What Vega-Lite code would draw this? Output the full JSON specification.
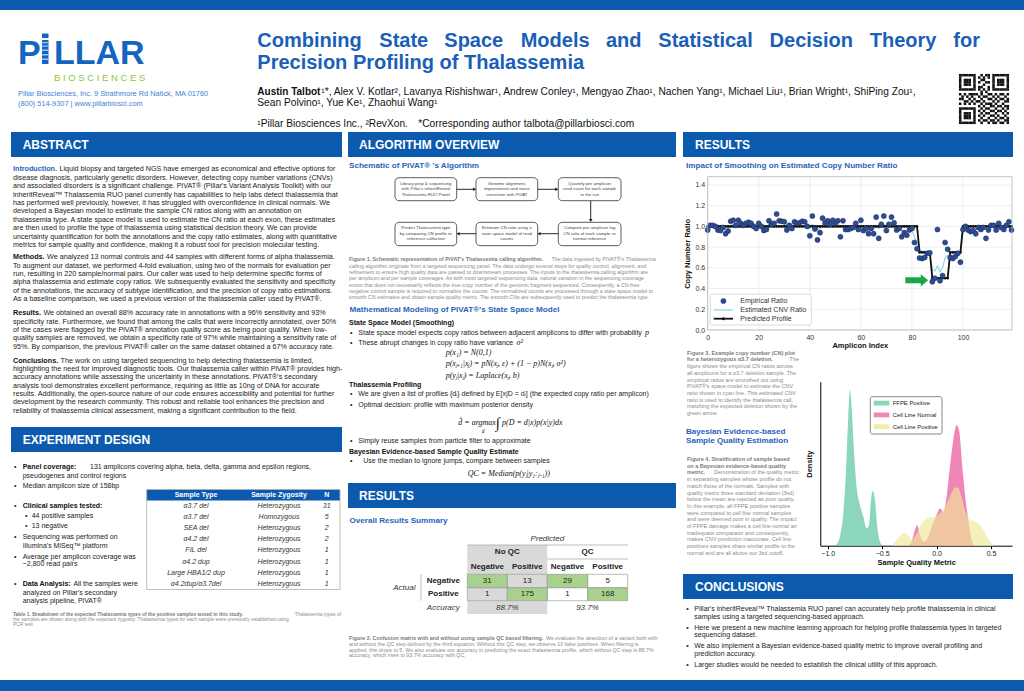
{
"$schema": "https://vega.github.io/schema/vega-lite/v6.json",
"width": 1024, "height": 691,
"autosize": {"type": "none"},
"padding": 0,
"background": "white",
"config": {"view": {"stroke": null}, "font": "Liberation Sans", "axis": {"labelFont": "Liberation Sans", "titleFont": "Liberation Sans"}},
"datasets": {
"cn": [
{"i":0,"e":0.965,"s":0.99,"p":1},{"i":1,"e":1.01,"s":1.0,"p":1},{"i":2,"e":1.01,"s":1.0,"p":1},{"i":3,"e":1.0,"s":0.99,"p":1},{"i":4,"e":0.965,"s":0.98,"p":1},{"i":5,"e":0.96,"s":0.98,"p":1},{"i":6,"e":0.99,"s":0.98,"p":1},{"i":7,"e":0.93,"s":0.97,"p":1},{"i":8,"e":0.955,"s":0.98,"p":1},{"i":9,"e":1.05,"s":1.01,"p":1},
{"i":10,"e":1.06,"s":1.02,"p":1},{"i":11,"e":1.01,"s":1.02,"p":1},{"i":12,"e":1.06,"s":1.03,"p":1},{"i":13,"e":1.03,"s":1.03,"p":1},{"i":14,"e":1.01,"s":1.02,"p":1},{"i":15,"e":1.03,"s":1.02,"p":1},{"i":16,"e":1.04,"s":1.02,"p":1},{"i":17,"e":1.03,"s":1.02,"p":1},{"i":18,"e":1.0,"s":1.01,"p":1},{"i":19,"e":0.98,"s":1.0,"p":1},
{"i":20,"e":1.03,"s":1.01,"p":1},{"i":21,"e":1.0,"s":1.0,"p":1},{"i":22,"e":0.96,"s":0.99,"p":1},{"i":23,"e":0.97,"s":1.0,"p":1},{"i":24,"e":1.055,"s":1.02,"p":1},{"i":25,"e":1.02,"s":1.02,"p":1},{"i":26,"e":1.03,"s":1.03,"p":1},{"i":27,"e":1.12,"s":1.05,"p":1},{"i":28,"e":1.055,"s":1.04,"p":1},{"i":29,"e":1.05,"s":1.04,"p":1},
{"i":30,"e":1.045,"s":1.03,"p":1},{"i":31,"e":0.965,"s":1.01,"p":1},{"i":32,"e":1.01,"s":1.01,"p":1},{"i":33,"e":0.98,"s":1.01,"p":1},{"i":34,"e":1.045,"s":1.02,"p":1},{"i":35,"e":1.03,"s":1.02,"p":1},{"i":36,"e":1.035,"s":1.03,"p":1},{"i":37,"e":1.05,"s":1.03,"p":1},{"i":38,"e":1.045,"s":1.03,"p":1},{"i":39,"e":1.0,"s":1.02,"p":1},
{"i":40,"e":0.91,"s":1.0,"p":1},{"i":41,"e":1.1,"s":1.02,"p":1},{"i":42,"e":0.975,"s":1.0,"p":1},{"i":43,"e":0.87,"s":0.97,"p":1},{"i":44,"e":0.94,"s":0.98,"p":1},{"i":45,"e":1.08,"s":1.02,"p":1},{"i":46,"e":1.035,"s":1.03,"p":1},{"i":47,"e":1.055,"s":1.03,"p":1},{"i":48,"e":1.02,"s":1.03,"p":1},{"i":49,"e":1.06,"s":1.03,"p":1},
{"i":50,"e":1.035,"s":1.03,"p":1},{"i":51,"e":1.055,"s":1.03,"p":1},{"i":52,"e":0.9,"s":1.0,"p":1},{"i":53,"e":1.055,"s":1.01,"p":1},{"i":54,"e":0.97,"s":1.0,"p":1},{"i":55,"e":0.97,"s":0.99,"p":1},{"i":56,"e":0.98,"s":0.99,"p":1},{"i":57,"e":0.99,"s":0.99,"p":1},{"i":58,"e":1.03,"s":1.0,"p":1},{"i":59,"e":0.97,"s":0.99,"p":1},
{"i":60,"e":1.06,"s":1.01,"p":1},{"i":61,"e":0.96,"s":0.99,"p":1},{"i":62,"e":0.98,"s":0.98,"p":1},{"i":63,"e":0.93,"s":0.97,"p":1},{"i":64,"e":0.98,"s":0.97,"p":1},{"i":65,"e":0.93,"s":0.97,"p":1},{"i":66,"e":1.09,"s":1.0,"p":1},{"i":67,"e":0.885,"s":0.98,"p":1},{"i":68,"e":1.02,"s":1.0,"p":1},{"i":69,"e":1.1,"s":1.02,"p":1},
{"i":70,"e":0.96,"s":1.0,"p":1},{"i":71,"e":1.02,"s":1.01,"p":1},{"i":72,"e":1.09,"s":1.02,"p":1},{"i":73,"e":1.035,"s":1.01,"p":1},{"i":74,"e":0.965,"s":0.99,"p":1},{"i":75,"e":0.98,"s":0.98,"p":1},{"i":76,"e":0.9,"s":0.96,"p":1},{"i":77,"e":0.94,"s":0.95,"p":1},{"i":78,"e":0.915,"s":0.95,"p":1},{"i":79,"e":0.965,"s":0.96,"p":1},
{"i":80,"e":0.98,"s":0.96,"p":1},{"i":81,"e":0.845,"s":0.9,"p":1},{"i":82,"e":0.785,"s":0.83,"p":1},{"i":83,"e":0.695,"s":0.77,"p":0.75},{"i":84,"e":0.69,"s":0.76,"p":0.75},{"i":85,"e":0.7,"s":0.76,"p":0.75},{"i":86,"e":0.74,"s":0.76,"p":0.75},{"i":87,"e":0.745,"s":0.74,"p":0.75},{"i":88,"e":0.467,"s":0.58,"p":0.5},{"i":89,"e":0.5,"s":0.57,"p":0.5},
{"i":90,"e":0.97,"s":0.62,"p":0.5},{"i":91,"e":0.476,"s":0.56,"p":0.5},{"i":92,"e":0.525,"s":0.6,"p":0.5},{"i":93,"e":0.845,"s":0.7,"p":0.5},{"i":94,"e":0.78,"s":0.72,"p":0.5},{"i":95,"e":0.7,"s":0.72,"p":0.75},{"i":96,"e":0.69,"s":0.72,"p":0.75},{"i":97,"e":0.71,"s":0.72,"p":0.75},{"i":98,"e":0.74,"s":0.73,"p":0.75},{"i":99,"e":0.655,"s":0.74,"p":0.75},
{"i":100,"e":0.97,"s":0.93,"p":1},{"i":101,"e":1.0,"s":0.98,"p":1},{"i":102,"e":0.965,"s":0.98,"p":1},{"i":103,"e":0.95,"s":0.97,"p":1},{"i":104,"e":0.96,"s":0.97,"p":1},{"i":105,"e":0.93,"s":0.97,"p":1},{"i":106,"e":0.99,"s":0.97,"p":1},{"i":107,"e":0.97,"s":0.98,"p":1},{"i":108,"e":0.99,"s":0.98,"p":1},{"i":109,"e":0.885,"s":0.97,"p":1},
{"i":110,"e":0.965,"s":0.98,"p":1},{"i":111,"e":1.01,"s":0.99,"p":1},{"i":112,"e":1.01,"s":0.99,"p":1},{"i":113,"e":0.965,"s":0.99,"p":1},{"i":114,"e":1.03,"s":1.0,"p":1},{"i":115,"e":0.99,"s":1.0,"p":1},{"i":116,"e":0.97,"s":1.0,"p":1},{"i":117,"e":1.01,"s":1.01,"p":1},{"i":118,"e":1.045,"s":1.01,"p":1},{"i":119,"e":0.965,"s":1.0,"p":1}
],
"gx": [{"v":0},{"v":20},{"v":40},{"v":60},{"v":80},{"v":100}],
"gy": [{"v":0},{"v":0.2},{"v":0.4},{"v":0.6},{"v":0.8},{"v":1.0},{"v":1.2},{"v":1.4}],
"one": [{"k":1}],
"arrow": [{"a":77.4,"b":83.6,"h":84.9,"y":0.48}],
"dG": [{"v":-0.958,"d":0},{"v":-0.918,"d":0.05},{"v":-0.888,"d":0.29},{"v":-0.857,"d":1.03},{"v":-0.833,"d":2.32},{"v":-0.811,"d":4.13},{"v":-0.796,"d":5.0},{"v":-0.781,"d":4.45},{"v":-0.759,"d":3.06},{"v":-0.735,"d":1.89},{"v":-0.704,"d":1.3},{"v":-0.673,"d":0.93},{"v":-0.643,"d":0.55},{"v":-0.621,"d":0.66},{"v":-0.603,"d":1.46},{"v":-0.585,"d":1.76},{"v":-0.566,"d":1.46},{"v":-0.545,"d":0.61},{"v":-0.52,"d":0.13},{"v":-0.496,"d":0}],
"dP": [{"v":-0.26,"d":0},{"v":-0.23,"d":0.13},{"v":-0.199,"d":0.5},{"v":-0.178,"d":0.66},{"v":-0.153,"d":0.34},{"v":-0.122,"d":0.13},{"v":-0.092,"d":0.18},{"v":-0.046,"d":0.61},{"v":0.0,"d":0.98},{"v":0.031,"d":1.19},{"v":0.061,"d":1.09},{"v":0.092,"d":1.57},{"v":0.122,"d":2.53},{"v":0.153,"d":3.38},{"v":0.184,"d":3.86},{"v":0.208,"d":3.65},{"v":0.236,"d":2.53},{"v":0.266,"d":1.46},{"v":0.291,"d":0.82},{"v":0.315,"d":0.29},{"v":0.34,"d":0}],
"dY": [{"v":-0.413,"d":0},{"v":-0.367,"d":0.18},{"v":-0.321,"d":0.37},{"v":-0.291,"d":0.42},{"v":-0.254,"d":0.29},{"v":-0.223,"d":0.2},{"v":-0.193,"d":0.34},{"v":-0.153,"d":0.61},{"v":-0.107,"d":0.82},{"v":-0.061,"d":0.9},{"v":-0.015,"d":0.93},{"v":0.031,"d":1.03},{"v":0.077,"d":1.25},{"v":0.122,"d":1.57},{"v":0.162,"d":1.84},{"v":0.193,"d":1.87},{"v":0.223,"d":1.62},{"v":0.26,"d":1.14},{"v":0.306,"d":0.82},{"v":0.352,"d":0.77},{"v":0.398,"d":0.66},{"v":0.438,"d":0.45},{"v":0.481,"d":0.18},{"v":0.53,"d":0}],
"qr": [
{"r":0,"c":[0,1,2,3,4,5,6,9,11,12,14,15,16,17,18,19,20]},
{"r":1,"c":[0,6,8,10,12,14,20]},
{"r":2,"c":[0,2,3,4,6,9,10,14,16,17,18,20]},
{"r":3,"c":[0,2,3,4,6,8,11,12,14,16,17,18,20]},
{"r":4,"c":[0,2,3,4,6,10,14,16,17,18,20]},
{"r":5,"c":[0,6,8,9,12,14,20]},
{"r":6,"c":[0,1,2,3,4,5,6,8,10,12,14,15,16,17,18,19,20]},
{"r":7,"c":[9,11]},
{"r":8,"c":[0,2,4,5,6,7,9,12,13,15,17,18,20]},
{"r":9,"c":[1,3,5,8,10,11,14,16,19]},
{"r":10,"c":[0,1,4,6,9,12,13,15,17,18,20]},
{"r":11,"c":[2,3,5,7,8,10,14,16,19,20]},
{"r":12,"c":[0,2,4,6,9,11,12,13,15,18]},
{"r":13,"c":[8,10,13,14,16,17,19,20]},
{"r":14,"c":[0,1,2,3,4,5,6,9,11,12,15,18,20]},
{"r":15,"c":[0,6,8,10,13,14,16,17,19]},
{"r":16,"c":[0,2,3,4,6,9,11,12,15,18,20]},
{"r":17,"c":[0,2,3,4,6,8,10,13,14,16,19]},
{"r":18,"c":[0,2,3,4,6,9,12,15,17,18,20]},
{"r":19,"c":[0,6,8,10,11,13,14,16,19,20]},
{"r":20,"c":[0,1,2,3,4,5,6,9,12,14,15,17,18,20]}
],
"bars": [
{"x":0,"x2":1024,"y":0,"y2":10},{"x":0,"x2":1024,"y":680,"y2":691},
{"x":11,"x2":342,"y":132,"y2":157},{"x":11,"x2":342,"y":427,"y2":452},
{"x":348,"x2":676,"y":132,"y2":157},{"x":348,"x2":676,"y":483,"y2":508},
{"x":683,"x2":1013,"y":132,"y2":157},{"x":683,"x2":1013,"y":574,"y2":599},
{"x":146.7,"x2":340,"y":489.5,"y2":500.5}
],
"barTitles": [
{"x":22.7,"y":145,"t":"ABSTRACT"},{"x":22.7,"y":440,"t":"EXPERIMENT DESIGN"},
{"x":359,"y":145,"t":"ALGORITHM OVERVIEW"},{"x":359,"y":496,"t":"RESULTS"},
{"x":695,"y":145,"t":"RESULTS"},{"x":695,"y":587,"t":"CONCLUSIONS"}
],
"logoText": [{"x":18,"y":64,"t":"P"},{"x":54,"y":64,"t":"LLAR"}],
"logoBars": [{"x":42,"x2":48.5,"y":33.5,"y2":38},{"x":42,"x2":48.5,"y":40,"y2":64}],
"logoStripes": [{"x":42,"x2":48.5,"y":42,"y2":43.2},{"x":42,"x2":48.5,"y":45.5,"y2":46.7},{"x":42,"x2":48.5,"y":49.5,"y2":51},{"x":42,"x2":48.5,"y":54,"y2":55.5},{"x":42,"x2":48.5,"y":58.5,"y2":60}],
"bio": [{"x":54,"y":77.5,"t":"B I O S C I E N C E S"}],
"address": [{"x":18,"y":94.3,"t":"Pillar Biosciences, Inc. 9 Strathmore Rd Natick, MA 01760"},{"x":18,"y":104,"t":"(800) 514-9307  |  www.pillarbiosci.com"}],
"titleWords": [
{"x":257.3,"y":40.5,"t":"Combining"},{"x":379.3,"y":40.5,"t":"State"},{"x":444.3,"y":40.5,"t":"Space"},{"x":520.7,"y":40.5,"t":"Models"},{"x":606,"y":40.5,"t":"and"},{"x":658.3,"y":40.5,"t":"Statistical"},{"x":769.6,"y":40.5,"t":"Decision"},{"x":869.8,"y":40.5,"t":"Theory"},{"x":953.3,"y":40.5,"t":"for"},
{"x":257.3,"y":63.3,"t":"Precision Profiling of Thalassemia"}
],
"authorsBold": [{"x":257.3,"y":91.7,"t":"Austin Talbot"}],
"authors": [
{"x":321.3,"y":91.7,"t":"¹*, Alex V. Kotlar², Lavanya Rishishwar¹, Andrew Conley¹, Mengyao Zhao¹, Nachen Yang¹, Michael Liu¹, Brian Wright¹, ShiPing Zou¹,"},
{"x":257.3,"y":103.3,"t":"Sean Polvino¹, Yue Ke¹, Zhaohui Wang¹"},
{"x":257.3,"y":124.3,"t":"¹Pillar Biosciences Inc., ²RevXon."},
{"x":418.3,"y":124.3,"t":"*Corresponding author talbota@pillarbiosci.com"}
],
"subheads": [
{"x":349,"y":166,"t":"Schematic of PiVAT® 's Algorithm"},
{"x":349.5,"y":310,"t":"Mathematical Modeling of PiVAT®'s State Space Model"},
{"x":349.5,"y":520.7,"t":"Overall Results Summary"},
{"x":686,"y":165.7,"t":"Impact of Smoothing on Estimated Copy Number Ratio"},
{"x":686,"y":431.7,"t":"Bayesian Evidence-based"},
{"x":686,"y":441,"t":"Sample Quality Estimation"}
],
"absBlue": [{"x":13,"y":169.3,"t":"Introduction."}],
"absBold": [{"x":13,"y":257.3,"t":"Methods."},{"x":13,"y":313.3,"t":"Results."},{"x":13,"y":360.7,"t":"Conclusions."}],
"abs": [
{"x":59.4,"y":169.3,"t":"Liquid biopsy and targeted NGS have emerged as economical and effective options for"},
{"x":13,"y":177.7,"t":"disease diagnosis, particularly genetic disorders. However, detecting copy number variations (CNVs)"},
{"x":13,"y":186.1,"t":"and associated disorders is a significant challenge. PiVAT® (Pillar's Variant Analysis Toolkit) with our"},
{"x":13,"y":194.5,"t":"inheritReveal™ Thalassemia RUO panel currently has capabilities to help labs detect thalassemia that"},
{"x":13,"y":203.0,"t":"has performed well previously, however, it has struggled with overconfidence in clinical normals. We"},
{"x":13,"y":211.4,"t":"developed a Bayesian model to estimate the sample CN ratios along with an annotation on"},
{"x":13,"y":219.8,"t":"thalassemia type. A state space model is used to estimate the CN ratio at each exon, these estimates"},
{"x":13,"y":228.2,"t":"are then used to profile the type of thalassemia using statistical decision theory. We can provide"},
{"x":13,"y":236.6,"t":"uncertainty quantification for both the annotations and the copy ratio estimates, along with quantitative"},
{"x":13,"y":245.0,"t":"metrics for sample quality and confidence, making it a robust tool for precision molecular testing."},
{"x":47,"y":257.3,"t":"We analyzed 13 normal controls and 44 samples with different forms of alpha thalassemia."},
{"x":13,"y":265.7,"t":"To augment our dataset, we performed 4-fold evaluation, using two of the normals for evaluation per"},
{"x":13,"y":274.0,"t":"run, resulting in 220 sample/normal pairs. Our caller was used to help determine specific forms of"},
{"x":13,"y":282.3,"t":"alpha thalassemia and estimate copy ratios. We subsequently evaluated the sensitivity and specificity"},
{"x":13,"y":290.7,"t":"of the annotations, the accuracy of subtype identification, and the precision of copy ratio estimations."},
{"x":13,"y":299.0,"t":"As a baseline comparison, we used a previous version of the thalassemia caller used by PiVAT®."},
{"x":43.4,"y":313.3,"t":"We obtained an overall 88% accuracy rate in annotations with a 96% sensitivity and 93%"},
{"x":13,"y":321.7,"t":"specificity rate. Furthermore, we found that among the calls that were incorrectly annotated, over 50%"},
{"x":13,"y":330.0,"t":"of the cases were flagged by the PiVAT® annotation quality score as being poor quality. When low-"},
{"x":13,"y":338.3,"t":"quality samples are removed, we obtain a specificity rate of 97% while maintaining a sensitivity rate of"},
{"x":13,"y":346.7,"t":"95%. By comparison, the previous PiVAT® caller on the same dataset obtained a 67% accuracy rate."},
{"x":60.6,"y":360.7,"t":"The work on using targeted sequencing to help detecting thalassemia is limited,"},
{"x":13,"y":369.0,"t":"highlighting the need for improved diagnostic tools. Our thalassemia caller within PiVAT® provides high-"},
{"x":13,"y":377.3,"t":"accuracy annotations while assessing the uncertainty in these annotations. PiVAT®'s secondary"},
{"x":13,"y":385.7,"t":"analysis tool demonstrates excellent performance, requiring as little as 10ng of DNA for accurate"},
{"x":13,"y":394.0,"t":"results. Additionally, the open-source nature of our code ensures accessibility and potential for further"},
{"x":13,"y":402.3,"t":"development by the research community. This robust and reliable tool enhances the precision and"},
{"x":13,"y":410.6,"t":"reliability of thalassemia clinical assessment, making a significant contribution to the field."}
],
"body": [
{"x":14,"y":467.3,"t":"•"},{"x":90,"y":467.3,"t":"131 amplicons covering alpha, beta, delta, gamma and epsilon regions,"},
{"x":22.7,"y":476,"t":"pseudogenes and control regions"},
{"x":14,"y":485.7,"t":"•"},{"x":22.7,"y":485.7,"t":"Median amplicon size of 158bp"},
{"x":14,"y":506,"t":"•"},
{"x":25,"y":516,"t":"•"},{"x":31.7,"y":516,"t":"44 positive samples"},
{"x":25,"y":526,"t":"•"},{"x":31.7,"y":526,"t":"13 negative"},
{"x":14,"y":537.3,"t":"•"},{"x":22.7,"y":537.3,"t":"Sequencing was performed on"},
{"x":22.7,"y":545.7,"t":"Illumina's MiSeq™ platform"},
{"x":14,"y":556.7,"t":"•"},{"x":22.7,"y":556.7,"t":"Average per amplicon coverage was"},
{"x":22.7,"y":564.3,"t":"~2,800 read pairs"},
{"x":14,"y":584.3,"t":"•"},{"x":73.4,"y":584.3,"t":"All the samples were"},
{"x":22.7,"y":593.3,"t":"analyzed on Pillar's secondary"},
{"x":22.7,"y":601,"t":"analysis pipeline, PiVAT®"},
{"x":350,"y":332.7,"t":"•"},{"x":358.3,"y":332.7,"t":"State space model expects copy ratios between adjacent amplicons to differ with probability"},
{"x":350,"y":342.7,"t":"•"},{"x":358.3,"y":342.7,"t":"These abrupt changes in copy ratio have variance"},
{"x":350,"y":394,"t":"•"},{"x":358.3,"y":394,"t":"We are given a list of profiles {dᵢ} defined by E[x|D = dᵢ] (the expected copy ratio per amplicon)"},
{"x":350,"y":405,"t":"•"},{"x":358.3,"y":405,"t":"Optimal decision: profile with maximum posterior density"},
{"x":350,"y":441,"t":"•"},{"x":358.3,"y":441,"t":"Simply reuse samples from particle filter to approximate"},
{"x":350,"y":461,"t":"•"},{"x":363.3,"y":461,"t":"Use the median to ignore jumps, compare between samples"},
{"x":686.3,"y":609,"t":"•"},{"x":694.3,"y":609,"t":"Pillar's inheritReveal™ Thalassemia RUO panel can accurately help profile thalassemia in clinical"},
{"x":694.3,"y":616.7,"t":"samples using a targeted sequencing-based approach."},
{"x":686.3,"y":627.7,"t":"•"},{"x":694.3,"y":627.7,"t":"Here we present a new machine learning approach for helping profile thalassemia types in targeted"},
{"x":694.3,"y":635.3,"t":"sequencing dataset."},
{"x":686.3,"y":646.3,"t":"•"},{"x":694.3,"y":646.3,"t":"We also implement a Bayesian evidence-based quality metric to improve overall profiling and"},
{"x":694.3,"y":653.7,"t":"prediction accuracy."},
{"x":686.3,"y":664.7,"t":"•"},{"x":694.3,"y":664.7,"t":"Larger studies would be needed to establish the clinical utility of this approach."}
],
"bodyBold": [
{"x":22.7,"y":467.3,"t":"Panel coverage:"},{"x":22.7,"y":506,"t":"Clinical samples tested:"},{"x":22.7,"y":584.3,"t":"Data Analysis:"},
{"x":349,"y":323.3,"t":"State Space Model (Smoothing)"},{"x":349,"y":385,"t":"Thalassemia Profiling"},{"x":349,"y":451.7,"t":"Bayesian Evidence-based Sample Quality Estimate"}
],
"tblHead": [{"x":196,"y":495,"t":"Sample Type"},{"x":279,"y":495,"t":"Sample Zygosity"},{"x":326.7,"y":495,"t":"N"}],
"tblCells": [
{"x":196,"y":506,"t":"α3.7 del"},{"x":279,"y":506,"t":"Heterozygous"},{"x":326.7,"y":506,"t":"31"},
{"x":196,"y":517.1,"t":"α3.7 del"},{"x":279,"y":517.1,"t":"Homozygous"},{"x":326.7,"y":517.1,"t":"5"},
{"x":196,"y":528.2,"t":"SEA del"},{"x":279,"y":528.2,"t":"Heterozygous"},{"x":326.7,"y":528.2,"t":"2"},
{"x":196,"y":539.3,"t":"α4.2 del"},{"x":279,"y":539.3,"t":"Heterozygous"},{"x":326.7,"y":539.3,"t":"2"},
{"x":196,"y":550.4,"t":"FIL del"},{"x":279,"y":550.4,"t":"Heterozygous"},{"x":326.7,"y":550.4,"t":"1"},
{"x":196,"y":561.5,"t":"α4.2 dup"},{"x":279,"y":561.5,"t":"Heterozygous"},{"x":326.7,"y":561.5,"t":"1"},
{"x":196,"y":572.6,"t":"Large HBA1/2 dup"},{"x":279,"y":572.6,"t":"Heterozygous"},{"x":326.7,"y":572.6,"t":"1"},
{"x":196,"y":583.7,"t":"α4.2dup/α3.7del"},{"x":279,"y":583.7,"t":"Heterozygous"},{"x":326.7,"y":583.7,"t":"1"}
],
"tblBorder": [{"x":146.7,"x2":340,"y":489.5,"y2":589.5}],
"capSmallBold": [{"x":13,"y":615.3,"t":"Table 1. Breakdown of the expected Thalassemia types of the positive samples tested in this study."}],
"capSmall": [{"x":13,"y":620,"t":"the samples are shown along with the expected zygosity. Thalassemia types for each sample were previously established using"},{"x":13,"y":624.7,"t":"PCR test."}],
"capSmallR": [{"x":341,"y":615.3,"t":"Thalassemia types of"}],
"flowBoxes": [
{"x":395,"x2":456.7,"y":177.7,"y2":200.7},{"x":476,"x2":537.7,"y":177.7,"y2":200.7},{"x":558.3,"x2":621,"y":177.7,"y2":200.7},
{"x":395,"x2":456.7,"y":222.3,"y2":245.7},{"x":476,"x2":537.7,"y":222.3,"y2":245.7},{"x":558.3,"x2":621,"y":222.3,"y2":245.7}
],
"flowText": [
{"x":425.8,"y":183.7,"t":"Library prep & sequencing"},{"x":425.8,"y":189.2,"t":"with Pillar's inheritReveal"},{"x":425.8,"y":194.7,"t":"Thalassemia RUO Panel"},
{"x":506.8,"y":183.7,"t":"Genome alignment,"},{"x":506.8,"y":189.2,"t":"improvement and noise"},{"x":506.8,"y":194.7,"t":"correction with PiVAT"},
{"x":589.7,"y":183.7,"t":"Quantify per amplicon"},{"x":589.7,"y":189.2,"t":"read count for each sample"},{"x":589.7,"y":194.7,"t":"in the run"},
{"x":425.8,"y":228,"t":"Predict Thalassemia type"},{"x":425.8,"y":233.7,"t":"by comparing CN profile to"},{"x":425.8,"y":239.3,"t":"reference collection"},
{"x":506.8,"y":228,"t":"Estimate CN ratio using a"},{"x":506.8,"y":233.7,"t":"state space model of read"},{"x":506.8,"y":239.3,"t":"counts"},
{"x":589.7,"y":228,"t":"Compute per amplicon log"},{"x":589.7,"y":233.7,"t":"CN ratio of each sample vs"},{"x":589.7,"y":239.3,"t":"normal reference"}
],
"arrows": [
{"x":456.7,"x2":474,"y":189.3,"y2":189.3},{"x":537.7,"x2":556,"y":189.3,"y2":189.3},
{"x":590.7,"x2":590.7,"y":200.7,"y2":219.5},
{"x":541,"x2":558.3,"y":233.7,"y2":233.7},{"x":459.5,"x2":476,"y":233.7,"y2":233.7}
],
"headsR": [{"x":474.6,"y":189.3},{"x":556.7,"y":189.3}],
"headsL": [{"x":539.1,"y":233.7},{"x":458.1,"y":233.7}],
"headsD": [{"x":590.7,"y":220.6}],
"capBold": [
{"x":349,"y":259.3,"t":"Figure 1. Schematic representation of PiVAT's Thalassemia calling algorithm."},
{"x":349,"y":638.3,"t":"Figure 2. Confusion matrix with and without using sample QC based filtering."}
],
"cap": [
{"x":551.5,"y":259.3,"t":"The data ingested by PiVAT®'s Thalassemia"},
{"x":349,"y":265.65,"t":"calling algorithm originate from a targeted sequencing panel. The data undergo several steps for quality control, alignment, and"},
{"x":349,"y":272,"t":"refinement to ensure high quality data are passed to downstream processes. The inputs to the thalassemia calling algorithm are"},
{"x":349,"y":278.35,"t":"per amplicon and per sample coverages. As with most targeted sequencing data, natural variation in the sequencing coverage"},
{"x":349,"y":284.7,"t":"exists that does not necessarily reflects the true copy number of the genomic fragment sequenced. Consequently, a CN-free"},
{"x":349,"y":291.05,"t":"negative control sample is required to normalize the counts. The normalized counts are processed through a state space model to"},
{"x":349,"y":297.4,"t":"smooth CN estimates and obtain sample quality metric. The smooth CNs are subsequently used to predict the thalassemia type."},
{"x":546,"y":638.3,"t":"We evaluate the detection of a variant both with"},
{"x":349,"y":643.9,"t":"and without the QC step defined by the third equation. Without this QC step, we observe 13 false positives. When filtering is"},
{"x":349,"y":649.5,"t":"applied, this drops to 5. We also evaluate our accuracy in predicting the exact thalassemia profile, which without QC step is 88.7%"},
{"x":349,"y":655.1,"t":"accuracy, which rises to 93.7% accuracy with QC."}
],
"math": [
{"x":645,"y":332.7,"t":"p"},{"x":516.5,"y":342.7,"t":"σ²"},
{"x":445.7,"y":352.7,"t":"p(x₁) = N(0,1)"},
{"x":445.7,"y":364.3,"t":"p(xⱼ₊₁|xⱼ) = pN(xⱼ, ε) + (1 − p)N(xⱼ, σ²)"},
{"x":445.7,"y":375.7,"t":"p(yⱼ|xⱼ) = Laplace(xⱼ, b)"},
{"x":458.3,"y":423.3,"t":"d̂ = argmax"},
{"x":502,"y":423.3,"t":"p(D = d|x)p(x|y)dx"},
{"x":467.7,"y":474.3,"t":"QC = Median(p(yⱼ|y₁:ⱼ₋₁))"}
],
"mathBig": [{"x":495.5,"y":423.3,"t":"∫"}],
"mathSub": [{"x":481.7,"y":431,"t":"d"}],
"cmGrayBg": [{"x":467.3,"x2":547.3,"y":545,"y2":614}],
"cmGreen": [{"x":467.3,"x2":507.3,"y":574.3,"y2":587.7},{"x":507.3,"x2":547.3,"y":587.7,"y2":600.7},{"x":547.3,"x2":587.7,"y":574.3,"y2":587.7},{"x":587.7,"x2":627.7,"y":587.7,"y2":600.7}],
"cmCells": [
{"x":467.3,"x2":507.3,"y":574.3,"y2":587.7},{"x":507.3,"x2":547.3,"y":574.3,"y2":587.7},{"x":547.3,"x2":587.7,"y":574.3,"y2":587.7},{"x":587.7,"x2":627.7,"y":574.3,"y2":587.7},
{"x":467.3,"x2":507.3,"y":587.7,"y2":600.7},{"x":507.3,"x2":547.3,"y":587.7,"y2":600.7},{"x":547.3,"x2":587.7,"y":587.7,"y2":600.7},{"x":587.7,"x2":627.7,"y":587.7,"y2":600.7}
],
"cmLines": [{"x":467.3,"x2":628.3,"y":545,"y2":545},{"x":547.3,"x2":628.3,"y":559,"y2":559},{"x":421,"x2":421,"y":574.3,"y2":600.7}],
"cmBold": [
{"x":507.3,"y":552.3,"t":"No QC"},{"x":587.5,"y":552.3,"t":"QC"},
{"x":487.3,"y":566.7,"t":"Negative"},{"x":527.3,"y":566.7,"t":"Positive"},{"x":567.5,"y":566.7,"t":"Negative"},{"x":607.7,"y":566.7,"t":"Positive"},
{"x":443.3,"y":581,"t":"Negative"},{"x":443.3,"y":594,"t":"Positive"}
],
"cmReg": [
{"x":487.3,"y":581,"t":"31"},{"x":527.3,"y":581,"t":"13"},{"x":567.5,"y":581,"t":"29"},{"x":607.7,"y":581,"t":"5"},
{"x":487.3,"y":594,"t":"1"},{"x":527.3,"y":594,"t":"175"},{"x":567.5,"y":594,"t":"1"},{"x":607.7,"y":594,"t":"168"}
],
"cmItal": [
{"x":547.3,"y":539,"t":"Predicted"},{"x":404.3,"y":587.7,"t":"Actual"},{"x":443.3,"y":607.7,"t":"Accuracy"},
{"x":507.3,"y":607.7,"t":"88.7%"},{"x":587.5,"y":607.7,"t":"93.7%"}
],
"cap3Bold": [
{"x":687,"y":352.7,"t":"Figure 3. Example copy number (CN) plot"},
{"x":687,"y":359.4,"t":"for a heterozygous α3.7 deletion."},
{"x":687,"y":459,"t":"Figure 4. Stratification of sample based"},
{"x":687,"y":465.7,"t":"on a Bayesian evidence-based quality"},
{"x":687,"y":472.4,"t":"metric."}
],
"cap3R": [{"x":799,"y":359.4,"t":"The"},{"x":799,"y":472.4,"t":"Demonstration of the quality metric"}],
"cap3": [
{"x":687,"y":366.1,"t":"figure shows the empirical CN ratios across"},
{"x":687,"y":372.8,"t":"all amplicons for a α3.7 deletion sample. The"},
{"x":687,"y":379.5,"t":"empirical ratios are smoothed out using"},
{"x":687,"y":386.2,"t":"PiVAT®'s  space model to estimate the CNV"},
{"x":687,"y":392.9,"t":"ratio shown in cyan line. This estimated CNV"},
{"x":687,"y":399.6,"t":"ratio is used to identify the thalassemia call,"},
{"x":687,"y":406.3,"t":"matching the expected deletion shown by the"},
{"x":687,"y":413,"t":"green arrow."},
{"x":687,"y":479.1,"t":"in separating samples whose profile do not"},
{"x":687,"y":485.8,"t":"match those of the normals. Samples with"},
{"x":687,"y":492.5,"t":"quality metric three standard deviation (3sd)"},
{"x":687,"y":499.1,"t":"below the mean are rejected as poor quality."},
{"x":687,"y":505.8,"t":"In this example, all FFPE positive samples"},
{"x":687,"y":512.5,"t":"were compared to cell line normal samples"},
{"x":687,"y":519.2,"t":"and were deemed poor in quality. The impact"},
{"x":687,"y":525.9,"t":"of FFPE damage makes a cell line normal an"},
{"x":687,"y":532.6,"t":"inadequate comparator and consequently,"},
{"x":687,"y":539.3,"t":"makes CNV prediction inaccurate. Cell line"},
{"x":687,"y":546,"t":"positives samples share similar profile to the"},
{"x":687,"y":552.7,"t":"normal and are all above our 3sd cutoff."}
],
"legBox": [{"x":710.3,"x2":811.3,"y":294.3,"y2":325}],
"legCyan": [{"x":713.7,"x2":733,"y":310,"y2":310}],
"legBlack": [{"x":713.7,"x2":733,"y":318.7,"y2":318.7}],
"legCircle": [{"x":723.4,"y":301}],
"legDot": [{"x":723.4,"y":318.7}],
"legText": [{"x":740.3,"y":301,"t":"Empirical Ratio"},{"x":740.3,"y":310,"t":"Estimated CNV Ratio"},{"x":740.3,"y":318.7,"t":"Predicted Profile"}],
"dlegBox": [{"x":870.3,"x2":942,"y":396.7,"y2":434}],
"dlegG": [{"x":873.7,"x2":889.3,"y":400.7,"y2":405.5}],
"dlegP": [{"x":873.7,"x2":889.3,"y":412.5,"y2":417.3}],
"dlegY": [{"x":873.7,"x2":889.3,"y":424.3,"y2":429.1}],
"dlegText": [{"x":892.7,"y":403,"t":"FFPE Positive"},{"x":892.7,"y":415,"t":"Cell Line Normal"},{"x":892.7,"y":426.7,"t":"Cell Line Positive"}]
},
"layer": [
{
"layer": [
{"data": {"name": "gx"}, "mark": {"type": "rule", "color": "#e6e6e6", "strokeWidth": 0.7}, "encoding": {"x": {"field": "v", "type": "quantitative"}, "y": {"datum": 0}, "y2": {"datum": 1.48}}},
{"data": {"name": "gy"}, "mark": {"type": "rule", "color": "#e6e6e6", "strokeWidth": 0.7}, "encoding": {"y": {"field": "v", "type": "quantitative"}, "x": {"datum": 0}, "x2": {"datum": 119.2}}},
{"data": {"name": "cn"}, "mark": {"type": "line", "color": "#86d9e6", "strokeWidth": 1.1}, "encoding": {"x": {"field": "i", "type": "quantitative"}, "y": {"field": "s", "type": "quantitative"}}},
{"data": {"name": "cn"}, "mark": {"type": "line", "color": "#111111", "strokeWidth": 1.8, "point": {"filled": true, "color": "#111111", "size": 7}}, "encoding": {"x": {"field": "i", "type": "quantitative"}, "y": {"field": "p", "type": "quantitative"}}},
{"data": {"name": "cn"}, "mark": {"type": "point", "filled": true, "fill": "#2e4c90", "stroke": "#1b2f66", "strokeWidth": 0.5, "size": 26, "opacity": 1},
 "encoding": {
  "x": {"field": "i", "type": "quantitative", "scale": {"domain": [0, 119.2], "range": [707.7, 1012], "nice": false, "zero": false},
        "axis": {"orient": "bottom", "offset": -361, "values": [0, 20, 40, 60, 80, 100], "format": "d", "grid": false, "domain": false, "ticks": false, "labelFontSize": 7, "labelColor": "#333", "labelPadding": 3, "labelFlush": false, "title": "Amplicon Index", "titleFontSize": 7.5, "titleFontWeight": "bold", "titleColor": "#111", "titlePadding": 1.5}},
  "y": {"field": "e", "type": "quantitative", "scale": {"domain": [0, 1.48], "range": [330, 176.7], "nice": false, "zero": false},
        "axis": {"orient": "left", "offset": -707.7, "values": [0, 0.2, 0.4, 0.6, 0.8, 1, 1.2, 1.4], "format": ".1f", "grid": false, "domain": false, "ticks": false, "labelFontSize": 7, "labelColor": "#333", "labelPadding": 3, "labelFlush": false, "title": "Copy Number Ratio", "titleFontSize": 7.5, "titleFontWeight": "bold", "titleColor": "#111", "titlePadding": 3}}
 }},
{"data": {"name": "one"}, "mark": {"type": "rect", "fill": "transparent", "stroke": "#b5b5b5", "strokeWidth": 0.8}, "encoding": {"x": {"datum": 0}, "x2": {"datum": 119.2}, "y": {"datum": 0}, "y2": {"datum": 1.48}}},
{"data": {"name": "arrow"}, "mark": {"type": "rule", "color": "#1aa64a", "strokeWidth": 6}, "encoding": {"x": {"field": "a", "type": "quantitative"}, "x2": {"field": "b"}, "y": {"field": "y", "type": "quantitative"}}},
{"data": {"name": "arrow"}, "mark": {"type": "point", "filled": true, "fill": "#1aa64a", "size": 150, "shape": "M-0.6,-1L0.6,0L-0.6,1Z", "opacity": 1}, "encoding": {"x": {"field": "h", "type": "quantitative"}, "y": {"field": "y", "type": "quantitative"}}}
]
},
{
"layer": [
{"data": {"name": "dG"}, "mark": {"type": "area", "interpolate": "monotone", "color": "#66c9a4", "opacity": 0.75},
 "encoding": {
  "x": {"field": "v", "type": "quantitative", "scale": {"domain": [-1.068, 0.692], "range": [820.3, 1012], "nice": false, "zero": false},
        "axis": {"orient": "bottom", "offset": -145.3, "values": [-1, -0.5, 0, 0.5], "format": ".1f", "grid": false, "domainColor": "#000", "tickColor": "#000", "tickSize": 3, "labelFontSize": 7, "labelColor": "#222", "labelPadding": 1, "labelFlush": false, "title": "Sample Quality Metric", "titleFontSize": 7.5, "titleFontWeight": "bold", "titleColor": "#111", "titlePadding": 2}},
  "y": {"field": "d", "type": "quantitative", "scale": {"domain": [0, 5.25], "range": [545.7, 381.7], "nice": false, "zero": false},
        "axis": {"orient": "left", "offset": -820.3, "labels": false, "ticks": false, "grid": false, "domainColor": "#000", "title": "Density", "titleFontSize": 7.5, "titleFontWeight": "bold", "titleColor": "#111", "titlePadding": 7}}
 }},
{"data": {"name": "dP"}, "mark": {"type": "area", "interpolate": "monotone", "color": "#e7529c", "opacity": 0.7}, "encoding": {"x": {"field": "v", "type": "quantitative"}, "y": {"field": "d", "type": "quantitative"}}},
{"data": {"name": "dY"}, "mark": {"type": "area", "interpolate": "monotone", "color": "#efe893", "opacity": 0.65}, "encoding": {"x": {"field": "v", "type": "quantitative"}, "y": {"field": "d", "type": "quantitative"}}}
]
},
{
"data": {"name": "qr"},
"transform": [{"flatten": ["c"]}],
"mark": {"type": "square", "filled": true, "color": "#111111", "size": 6.3, "opacity": 1},
"encoding": {
 "x": {"field": "c", "type": "quantitative", "scale": {"domain": [-0.5, 20.5], "range": [959, 1009], "nice": false, "zero": false}, "axis": null},
 "y": {"field": "r", "type": "quantitative", "scale": {"domain": [-0.5, 20.5], "range": [74, 124], "nice": false, "zero": false}, "axis": null}
}
},
{
"encoding": {
 "x": {"field": "x", "type": "quantitative", "scale": {"domain": [0, 1024], "range": [0, 1024], "nice": false, "zero": false}, "axis": null},
 "y": {"field": "y", "type": "quantitative", "scale": {"domain": [0, 691], "range": [0, 691], "nice": false, "zero": false}, "axis": null}
},
"layer": [
{"data": {"name": "bars"}, "mark": {"type": "rect", "color": "#0c5aad"}, "encoding": {"x2": {"field": "x2"}, "y2": {"field": "y2"}}},
{"data": {"name": "barTitles"}, "mark": {"type": "text", "align": "left", "baseline": "middle", "color": "white", "fontWeight": "bold", "fontSize": 12}, "encoding": {"text": {"field": "t"}}},
{"data": {"name": "logoBars"}, "mark": {"type": "rect", "color": "#1565c0"}, "encoding": {"x2": {"field": "x2"}, "y2": {"field": "y2"}}},
{"data": {"name": "logoStripes"}, "mark": {"type": "rect", "color": "#9ccbf0"}, "encoding": {"x2": {"field": "x2"}, "y2": {"field": "y2"}}},
{"data": {"name": "logoText"}, "mark": {"type": "text", "align": "left", "baseline": "alphabetic", "color": "#1565c0", "fontWeight": "bold", "fontSize": 34}, "encoding": {"text": {"field": "t"}}},
{"data": {"name": "bio"}, "mark": {"type": "text", "align": "left", "baseline": "middle", "color": "#8cc63f", "fontSize": 9.5}, "encoding": {"text": {"field": "t"}}},
{"data": {"name": "address"}, "mark": {"type": "text", "align": "left", "baseline": "middle", "color": "#3f80d6", "fontSize": 7.4}, "encoding": {"text": {"field": "t"}}},
{"data": {"name": "titleWords"}, "mark": {"type": "text", "align": "left", "baseline": "middle", "color": "#1a5fb8", "fontWeight": "bold", "fontSize": 20}, "encoding": {"text": {"field": "t"}}},
{"data": {"name": "authorsBold"}, "mark": {"type": "text", "align": "left", "baseline": "middle", "color": "#111", "fontWeight": "bold", "fontSize": 10}, "encoding": {"text": {"field": "t"}}},
{"data": {"name": "authors"}, "mark": {"type": "text", "align": "left", "baseline": "middle", "color": "#111", "fontSize": 10.2}, "encoding": {"text": {"field": "t"}}},
{"data": {"name": "subheads"}, "mark": {"type": "text", "align": "left", "baseline": "middle", "color": "#1f63bd", "fontWeight": "bold", "fontSize": 8.1}, "encoding": {"text": {"field": "t"}}},
{"data": {"name": "absBlue"}, "mark": {"type": "text", "align": "left", "baseline": "middle", "color": "#1f63bd", "fontWeight": "bold", "fontSize": 7.2}, "encoding": {"text": {"field": "t"}}},
{"data": {"name": "absBold"}, "mark": {"type": "text", "align": "left", "baseline": "middle", "color": "#111", "fontWeight": "bold", "fontSize": 7.2}, "encoding": {"text": {"field": "t"}}},
{"data": {"name": "abs"}, "mark": {"type": "text", "align": "left", "baseline": "middle", "color": "#222", "fontSize": 7.2}, "encoding": {"text": {"field": "t"}}},
{"data": {"name": "body"}, "mark": {"type": "text", "align": "left", "baseline": "middle", "color": "#222", "fontSize": 7}, "encoding": {"text": {"field": "t"}}},
{"data": {"name": "bodyBold"}, "mark": {"type": "text", "align": "left", "baseline": "middle", "color": "#111", "fontWeight": "bold", "fontSize": 7}, "encoding": {"text": {"field": "t"}}},
{"data": {"name": "tblHead"}, "mark": {"type": "text", "align": "center", "baseline": "middle", "color": "white", "fontWeight": "bold", "fontSize": 7}, "encoding": {"text": {"field": "t"}}},
{"data": {"name": "tblCells"}, "mark": {"type": "text", "align": "center", "baseline": "middle", "color": "#333", "fontStyle": "italic", "fontSize": 7}, "encoding": {"text": {"field": "t"}}},
{"data": {"name": "tblBorder"}, "mark": {"type": "rect", "fill": "transparent", "stroke": "#b0b0b0", "strokeWidth": 0.8}, "encoding": {"x2": {"field": "x2"}, "y2": {"field": "y2"}}},
{"data": {"name": "capSmallBold"}, "mark": {"type": "text", "align": "left", "baseline": "middle", "color": "#7a7a7a", "fontWeight": "bold", "fontSize": 4.9}, "encoding": {"text": {"field": "t"}}},
{"data": {"name": "capSmall"}, "mark": {"type": "text", "align": "left", "baseline": "middle", "color": "#8c8c8c", "fontSize": 4.9}, "encoding": {"text": {"field": "t"}}},
{"data": {"name": "capSmallR"}, "mark": {"type": "text", "align": "right", "baseline": "middle", "color": "#8c8c8c", "fontSize": 4.9}, "encoding": {"text": {"field": "t"}}},
{"data": {"name": "flowBoxes"}, "mark": {"type": "rect", "fill": "white", "stroke": "#333", "strokeWidth": 0.8, "cornerRadius": 4}, "encoding": {"x2": {"field": "x2"}, "y2": {"field": "y2"}}},
{"data": {"name": "flowText"}, "mark": {"type": "text", "align": "center", "baseline": "middle", "color": "#444", "fontSize": 4.4}, "encoding": {"text": {"field": "t"}}},
{"data": {"name": "arrows"}, "mark": {"type": "rule", "color": "#111", "strokeWidth": 0.9}, "encoding": {"x2": {"field": "x2"}, "y2": {"field": "y2"}}},
{"data": {"name": "headsR"}, "mark": {"type": "point", "shape": "triangle-right", "filled": true, "color": "#111", "size": 12, "opacity": 1}, "encoding": {}},
{"data": {"name": "headsL"}, "mark": {"type": "point", "shape": "triangle-left", "filled": true, "color": "#111", "size": 12, "opacity": 1}, "encoding": {}},
{"data": {"name": "headsD"}, "mark": {"type": "point", "shape": "triangle-down", "filled": true, "color": "#111", "size": 12, "opacity": 1}, "encoding": {}},
{"data": {"name": "capBold"}, "mark": {"type": "text", "align": "left", "baseline": "middle", "color": "#7a7a7a", "fontWeight": "bold", "fontSize": 5.3}, "encoding": {"text": {"field": "t"}}},
{"data": {"name": "cap"}, "mark": {"type": "text", "align": "left", "baseline": "middle", "color": "#8c8c8c", "fontSize": 5.3}, "encoding": {"text": {"field": "t"}}},
{"data": {"name": "math"}, "mark": {"type": "text", "align": "left", "baseline": "middle", "color": "#111", "font": "Liberation Serif", "fontStyle": "italic", "fontSize": 8}, "encoding": {"text": {"field": "t"}}},
{"data": {"name": "mathBig"}, "mark": {"type": "text", "align": "left", "baseline": "middle", "color": "#111", "font": "Liberation Serif", "fontSize": 15}, "encoding": {"text": {"field": "t"}}},
{"data": {"name": "mathSub"}, "mark": {"type": "text", "align": "left", "baseline": "middle", "color": "#111", "font": "Liberation Serif", "fontStyle": "italic", "fontSize": 5.5}, "encoding": {"text": {"field": "t"}}},
{"data": {"name": "cmGrayBg"}, "mark": {"type": "rect", "color": "#d9d9d9"}, "encoding": {"x2": {"field": "x2"}, "y2": {"field": "y2"}}},
{"data": {"name": "cmGreen"}, "mark": {"type": "rect", "color": "#a9d18e"}, "encoding": {"x2": {"field": "x2"}, "y2": {"field": "y2"}}},
{"data": {"name": "cmCells"}, "mark": {"type": "rect", "fill": "transparent", "stroke": "#a0a0a0", "strokeWidth": 0.7}, "encoding": {"x2": {"field": "x2"}, "y2": {"field": "y2"}}},
{"data": {"name": "cmLines"}, "mark": {"type": "rule", "color": "#a0a0a0", "strokeWidth": 0.7}, "encoding": {"x2": {"field": "x2"}, "y2": {"field": "y2"}}},
{"data": {"name": "cmBold"}, "mark": {"type": "text", "align": "center", "baseline": "middle", "color": "#222", "fontWeight": "bold", "fontSize": 8}, "encoding": {"text": {"field": "t"}}},
{"data": {"name": "cmReg"}, "mark": {"type": "text", "align": "center", "baseline": "middle", "color": "#222", "fontSize": 8}, "encoding": {"text": {"field": "t"}}},
{"data": {"name": "cmItal"}, "mark": {"type": "text", "align": "center", "baseline": "middle", "color": "#333", "fontStyle": "italic", "fontSize": 8}, "encoding": {"text": {"field": "t"}}},
{"data": {"name": "cap3Bold"}, "mark": {"type": "text", "align": "left", "baseline": "middle", "color": "#7a7a7a", "fontWeight": "bold", "fontSize": 5.5}, "encoding": {"text": {"field": "t"}}},
{"data": {"name": "cap3"}, "mark": {"type": "text", "align": "left", "baseline": "middle", "color": "#8c8c8c", "fontSize": 5.5}, "encoding": {"text": {"field": "t"}}},
{"data": {"name": "cap3R"}, "mark": {"type": "text", "align": "right", "baseline": "middle", "color": "#8c8c8c", "fontSize": 5.5}, "encoding": {"text": {"field": "t"}}},
{"data": {"name": "legBox"}, "mark": {"type": "rect", "fill": "white", "fillOpacity": 0.9, "stroke": "#cccccc", "strokeWidth": 0.7, "cornerRadius": 2}, "encoding": {"x2": {"field": "x2"}, "y2": {"field": "y2"}}},
{"data": {"name": "legCyan"}, "mark": {"type": "rule", "color": "#86d9e6", "strokeWidth": 1.3}, "encoding": {"x2": {"field": "x2"}, "y2": {"field": "y2"}}},
{"data": {"name": "legBlack"}, "mark": {"type": "rule", "color": "#111", "strokeWidth": 1.8}, "encoding": {"x2": {"field": "x2"}, "y2": {"field": "y2"}}},
{"data": {"name": "legCircle"}, "mark": {"type": "point", "filled": true, "fill": "#2e4c90", "stroke": "#1b2f66", "strokeWidth": 0.5, "size": 26, "opacity": 1}, "encoding": {}},
{"data": {"name": "legDot"}, "mark": {"type": "point", "filled": true, "color": "#111", "size": 9, "opacity": 1}, "encoding": {}},
{"data": {"name": "legText"}, "mark": {"type": "text", "align": "left", "baseline": "middle", "color": "#333", "fontSize": 7}, "encoding": {"text": {"field": "t"}}},
{"data": {"name": "dlegBox"}, "mark": {"type": "rect", "fill": "white", "stroke": "#555", "strokeWidth": 0.7, "cornerRadius": 2}, "encoding": {"x2": {"field": "x2"}, "y2": {"field": "y2"}}},
{"data": {"name": "dlegG"}, "mark": {"type": "rect", "color": "#8cd7bb"}, "encoding": {"x2": {"field": "x2"}, "y2": {"field": "y2"}}},
{"data": {"name": "dlegP"}, "mark": {"type": "rect", "color": "#ee86ba"}, "encoding": {"x2": {"field": "x2"}, "y2": {"field": "y2"}}},
{"data": {"name": "dlegY"}, "mark": {"type": "rect", "color": "#f1eda8"}, "encoding": {"x2": {"field": "x2"}, "y2": {"field": "y2"}}},
{"data": {"name": "dlegText"}, "mark": {"type": "text", "align": "left", "baseline": "middle", "color": "#222", "fontSize": 5.9}, "encoding": {"text": {"field": "t"}}}
]
}
],
"resolve": {"scale": {"x": "independent", "y": "independent"}}
}
